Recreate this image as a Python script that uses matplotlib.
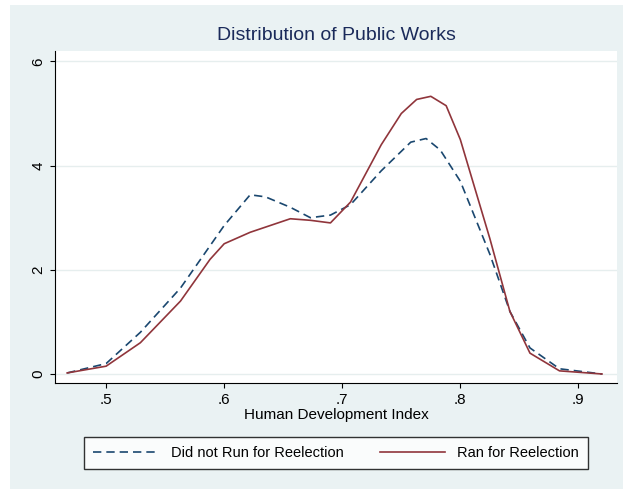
import matplotlib.pyplot as plt
from matplotlib.patches import Rectangle

plt.rcParams['font.family'] = ['Liberation Sans', 'DejaVu Sans']

hdi_dash = [0.467, 0.50, 0.529, 0.563, 0.60, 0.622, 0.635, 0.656, 0.673, 0.69, 0.707,
            0.733, 0.758, 0.771, 0.783, 0.80, 0.825, 0.842, 0.859, 0.884, 0.92]
dens_dash = [0.02, 0.2, 0.8, 1.65, 2.85, 3.44, 3.4, 3.2, 3.0, 3.05, 3.25,
             3.9, 4.45, 4.52, 4.3, 3.7, 2.3, 1.2, 0.5, 0.1, 0.0]

hdi_solid = [0.467, 0.50, 0.529, 0.563, 0.588, 0.60, 0.622, 0.639, 0.656, 0.673, 0.69,
             0.707, 0.733, 0.75, 0.763, 0.775, 0.788, 0.80, 0.825, 0.842, 0.859, 0.884, 0.92]
dens_solid = [0.02, 0.15, 0.6, 1.4, 2.2, 2.5, 2.72, 2.85, 2.98, 2.95, 2.9,
              3.3, 4.4, 5.0, 5.27, 5.33, 5.15, 4.5, 2.6, 1.2, 0.4, 0.06, 0.0]

bg = '#eaf2f3'
fig = plt.figure(figsize=(6.33, 4.95), dpi=100, facecolor='white')
fig.patches.append(Rectangle((10/633, 6/495), 613/633, 484/495, transform=fig.transFigure,
                             facecolor=bg, edgecolor='none', zorder=-1))
ax = fig.add_axes([55/633, 1-383/495, 562/633, 332/495])
ax.set_facecolor('white')
ax.plot(hdi_dash, dens_dash, color='#1a476f', lw=1.2, ls=(0, (5, 3)),
        label='Did not Run for Reelection')
ax.plot(hdi_solid, dens_solid, color='#90353b', lw=1.2, label='Ran for Reelection')

ax.set_xlim(0.4567, 0.9327)
ax.set_ylim(-0.173, 6.2)
ax.set_xticks([0.5, 0.6, 0.7, 0.8, 0.9])
ax.set_xticklabels(['.5', '.6', '.7', '.8', '.9'])
ax.set_yticks([0, 2, 4, 6])
ax.set_yticklabels(['0', '2', '4', '6'], rotation=90, va='center')
ax.grid(axis='y', color='#e6eeee', lw=1)
ax.set_axisbelow(True)
ax.tick_params(labelsize=11)
ax.set_xlabel('Human Development Index', fontsize=11, labelpad=1)
ax.set_title('Distribution of Public Works', fontsize=14, pad=8, color='#1a2a5a')
for s in ['top', 'right']:
    ax.spines[s].set_visible(False)

fig.legend(loc='center', bbox_to_anchor=(336/633, 1-453/495), ncol=2,
           fontsize=10.5, frameon=True, fancybox=False, edgecolor='black',
           columnspacing=2.5, handlelength=4.5, borderpad=0.6)
fig.savefig('out.png', dpi=100, facecolor='white')
